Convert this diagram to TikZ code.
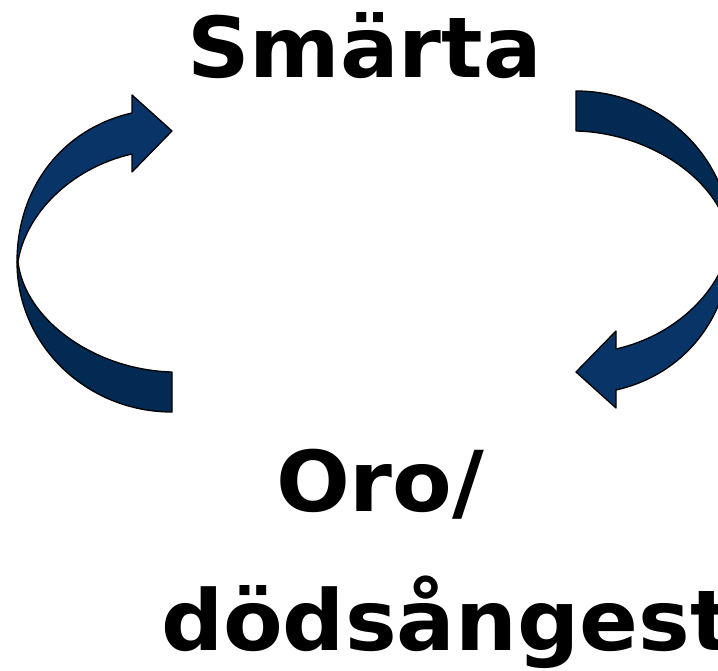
\documentclass[tikz,border=0pt]{standalone}
\usepackage{fontspec}
\newfontfamily\vfont[FakeStretch=1.035]{DejaVu Sans}
\definecolor{headblue}{RGB}{8,52,104}
\definecolor{tailblue}{RGB}{3,42,82}
\newcommand\arrowparts{%
  \path[tailpart] (17,262) .. controls (17,344.8) and (86.4,412) .. (172,412) -- (172,372) .. controls (95,370) and (25,320) .. (18,262) -- cycle;
  \path[headpart] (17,262) .. controls (17,185) and (65,128) .. (132,113) -- (132,95) -- (172,131) -- (132,172) -- (132,154) .. controls (70,168) and (25,215) .. (18,262) -- cycle;
}
\begin{document}
\begin{tikzpicture}[x=1pt,y=-1pt,
  lbl/.style={anchor=base west,inner sep=0pt,outer sep=0pt,font=\vfont\bfseries\fontsize{84}{84}\selectfont},
  headpart/.style={fill=headblue,draw=black,line width=1.3pt,line join=round},
  tailpart/.style={fill=tailblue,draw=black,line width=1.3pt,line join=round}]
\clip (0,0) rectangle (718,671);
\fill[white] (0,0) rectangle (718,671);
\arrowparts
\begin{scope}[rotate around={180:(374,251.5)}]
\arrowparts
\end{scope}
\node[lbl] (smarta) at (187,78) {Smärta};
\node[lbl] (oro) at (276,511) {Oro/};
\node[lbl] (dods) at (161,650) {dödsångest};
\end{tikzpicture}
\end{document}
